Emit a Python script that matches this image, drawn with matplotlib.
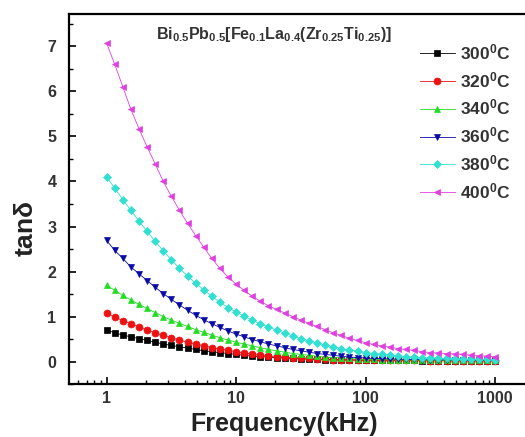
import matplotlib
matplotlib.use('Agg')
import matplotlib.pyplot as plt
from matplotlib.ticker import LogLocator, MultipleLocator, FixedLocator
import numpy as np

plt.rcParams['font.family'] = ['Liberation Sans', 'DejaVu Sans']
plt.rcParams['mathtext.fontset'] = 'custom'
plt.rcParams['mathtext.rm'] = 'Liberation Sans:bold'
plt.rcParams['mathtext.it'] = 'Liberation Sans:bold'
plt.rcParams['mathtext.bf'] = 'Liberation Sans:bold'

# frequency sweep, 16 points per decade from 1 kHz to 1 MHz
freq = [1.0, 1.155, 1.334, 1.540, 1.778, 2.054, 2.371, 2.738, 3.162, 3.652,
        4.217, 4.870, 5.623, 6.494, 7.499, 8.660, 10.0, 11.55, 13.34, 15.40,
        17.78, 20.54, 23.71, 27.38, 31.62, 36.52, 42.17, 48.70, 56.23, 64.94,
        74.99, 86.60, 100.0, 115.5, 133.4, 154.0, 177.8, 205.4, 237.1, 273.8,
        316.2, 365.2, 421.7, 487.0, 562.3, 649.4, 749.9, 866.0, 1000.0]

labels = ['300$^0$C', '320$^0$C', '340$^0$C', '360$^0$C', '380$^0$C', '400$^0$C']

t300 = [0.70, 0.64, 0.59, 0.55, 0.51, 0.47, 0.43, 0.39, 0.36, 0.33,
        0.30, 0.27, 0.24, 0.22, 0.20, 0.18, 0.16, 0.14, 0.12, 0.11,
        0.10, 0.09, 0.08, 0.07, 0.06, 0.055, 0.05, 0.045, 0.04, 0.038,
        0.036, 0.034, 0.032, 0.030, 0.029, 0.028, 0.027, 0.026, 0.025, 0.024,
        0.023, 0.022, 0.022, 0.021, 0.021, 0.020, 0.020, 0.020, 0.020]
t320 = [1.08, 0.99, 0.91, 0.84, 0.77, 0.70, 0.64, 0.58, 0.53, 0.48,
        0.43, 0.39, 0.35, 0.31, 0.28, 0.25, 0.22, 0.19, 0.17, 0.15,
        0.13, 0.11, 0.10, 0.09, 0.08, 0.07, 0.06, 0.05, 0.045, 0.04,
        0.038, 0.036, 0.034, 0.032, 0.030, 0.029, 0.028, 0.027, 0.026, 0.025,
        0.024, 0.023, 0.022, 0.022, 0.021, 0.021, 0.020, 0.020, 0.020]
t340 = [1.70, 1.58, 1.47, 1.37, 1.27, 1.18, 1.09, 1.00, 0.92, 0.85,
        0.78, 0.71, 0.65, 0.59, 0.53, 0.48, 0.43, 0.39, 0.35, 0.31,
        0.27, 0.24, 0.21, 0.18, 0.16, 0.14, 0.12, 0.10, 0.09, 0.08,
        0.07, 0.06, 0.05, 0.048, 0.045, 0.042, 0.040, 0.038, 0.036, 0.034,
        0.032, 0.030, 0.029, 0.028, 0.027, 0.026, 0.025, 0.025, 0.025]
t360 = [2.69, 2.47, 2.29, 2.10, 1.95, 1.80, 1.65, 1.51, 1.38, 1.26,
        1.14, 1.03, 0.93, 0.84, 0.76, 0.68, 0.61, 0.55, 0.49, 0.44,
        0.39, 0.35, 0.31, 0.27, 0.24, 0.21, 0.18, 0.16, 0.14, 0.12,
        0.10, 0.09, 0.08, 0.07, 0.065, 0.06, 0.055, 0.05, 0.048, 0.045,
        0.042, 0.040, 0.038, 0.036, 0.035, 0.034, 0.033, 0.032, 0.030]
t380 = [4.10, 3.85, 3.60, 3.36, 3.12, 2.89, 2.67, 2.46, 2.26, 2.07,
        1.90, 1.74, 1.59, 1.45, 1.32, 1.20, 1.10, 1.01, 0.92, 0.84,
        0.77, 0.70, 0.63, 0.57, 0.51, 0.46, 0.41, 0.37, 0.33, 0.29,
        0.26, 0.23, 0.20, 0.18, 0.16, 0.14, 0.12, 0.11, 0.10, 0.09,
        0.08, 0.075, 0.07, 0.065, 0.06, 0.055, 0.05, 0.05, 0.045]
t400 = [7.07, 6.60, 6.10, 5.60, 5.17, 4.77, 4.39, 4.00, 3.67, 3.36,
        3.07, 2.80, 2.54, 2.29, 2.07, 1.88, 1.72, 1.58, 1.45, 1.34,
        1.24, 1.16, 1.08, 1.00, 0.92, 0.85, 0.78, 0.71, 0.64, 0.58,
        0.52, 0.47, 0.42, 0.38, 0.35, 0.32, 0.29, 0.27, 0.25, 0.22,
        0.20, 0.19, 0.18, 0.17, 0.16, 0.14, 0.13, 0.12, 0.11]

series = [t300, t320, t340, t360, t380, t400]
colors = ['#000000', '#ee1111', '#22dd22', '#0a0aa8', '#30e0d0', '#e040e0']
markers = ['s', 'o', '^', 'v', 'D', '<']
msizes = [4.5, 5.0, 5.0, 5.0, 4.5, 5.0]

fig = plt.figure(figsize=(5.25, 4.37), dpi=100)
ax = fig.add_axes([0.131, 0.121, 0.875, 0.847])

for y, c, m, ms, lab in zip(series, colors, markers, msizes, labels):
    ax.plot(freq, y, color=c, marker=m, markersize=ms, lw=0.6,
            markeredgewidth=0.5, label=lab)

ax.set_xscale('log')
ax.set_xlim(0.51, 1800)
ax.set_ylim(-0.5, 7.72)

ax.xaxis.set_major_locator(FixedLocator([1, 10, 100, 1000]))
ax.xaxis.set_minor_locator(LogLocator(base=10, subs=np.arange(2, 10), numticks=20))
ax.set_xticklabels(['1', '10', '100', '1000'])
ax.yaxis.set_major_locator(MultipleLocator(1))
ax.yaxis.set_minor_locator(MultipleLocator(0.5))

ax.tick_params(axis='both', which='major', direction='in', length=5, width=1.2,
               labelsize=11.5, top=False, right=False)
ax.tick_params(axis='x', which='major', pad=5)
ax.tick_params(axis='y', which='major', pad=9)
ax.tick_params(axis='both', which='minor', direction='in', length=3, width=1,
               top=False, right=False)
for lab in ax.get_xticklabels() + ax.get_yticklabels():
    lab.set_fontweight('bold')
    lab.set_color('#333333')

for s in ax.spines.values():
    s.set_linewidth(1.6)

ax.set_xlabel('Frequency(kHz)', fontsize=18, fontweight='bold', color='#222222')
ax.xaxis.set_label_coords(0.47, -0.075)
ax.set_ylabel('tan$\\delta$', fontsize=19, fontweight='bold', color='#222222')
ax.yaxis.set_label_coords(-0.068, 0.42)

ax.text(0.19, 0.945,
        'Bi$_{0.5}$Pb$_{0.5}$[Fe$_{0.1}$La$_{0.4}$(Zr$_{0.25}$Ti$_{0.25}$)]',
        transform=ax.transAxes, fontsize=11.5, fontweight='bold', color='#333333',
        va='center', ha='left')

leg = ax.legend(loc='upper right', bbox_to_anchor=(0.995, 0.965), frameon=False,
                prop={'size': 12.5, 'weight': 'bold'}, handlelength=2.0,
                handletextpad=0.3, labelspacing=0.45)
for t in leg.get_texts():
    t.set_color('#333333')

fig.savefig('out.png', dpi=100)
